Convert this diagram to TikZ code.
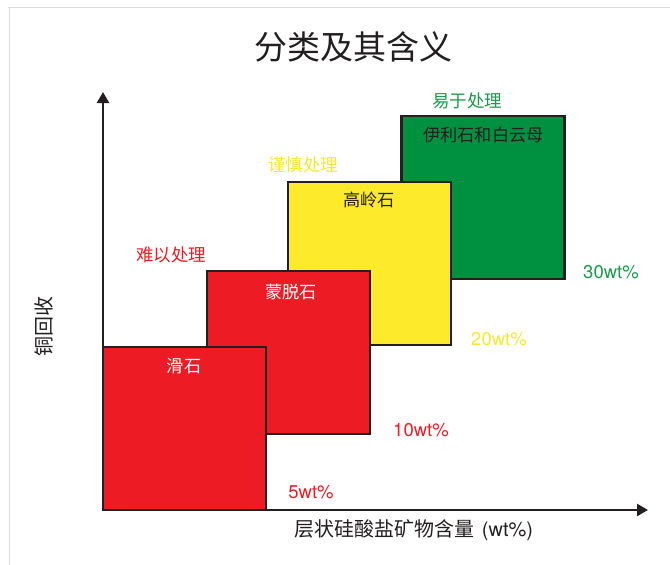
\documentclass[tikz,border=0pt]{standalone}
\usepackage{fontspec}
\setmainfont{Noto Sans CJK SC}
\newfontfamily\latf{TeX Gyre Heros}
\usetikzlibrary{arrows.meta}
\definecolor{ink}{HTML}{231F20}
\definecolor{rd}{HTML}{ED1C24}
\definecolor{yl}{HTML}{FCEA2B}
\definecolor{gn}{HTML}{009140}
\definecolor{gnt}{HTML}{1B9A4B}
\definecolor{ylt}{HTML}{F7E733}
\definecolor{frame}{HTML}{DCDCDC}
\tikzset{
  box/.style={draw=ink, line width=2.5pt, minimum width=163pt, minimum height=163pt, inner sep=0pt},
  boxlbl/.style={inner sep=0pt, font=\fontsize{17.2}{19}\selectfont},
  catlbl/.style={inner sep=0pt, font=\fontsize{17.5}{19}\selectfont},
  wtlbl/.style={inner sep=0pt, font=\latf\fontsize{18.5}{20}\selectfont},
  axis/.style={draw=ink, line width=2.5pt, -{Triangle[length=11pt,width=12pt]}},
}
\begin{document}
\begin{tikzpicture}[x=1pt,y=-1pt]
\useasboundingbox (0,0) rectangle (670,565);
% frame
\draw[frame, line width=1.5pt] (8,7.5) -- (670,7.5);
\draw[frame, line width=1.5pt] (9.5,7) -- (9.5,565);
% title
\node[inner sep=0pt, font=\fontsize{33}{36}\selectfont, text=ink] (title) at (353,47) {分类及其含义};
% axes
\coordinate (o) at (103,510);
\coordinate (ytip) at (103,92);
\coordinate (xtip) at (648,510);
\draw[axis] (o) -- (ytip);
\draw[axis] (o) -- (xtip);
% boxes (back to front)
\node[box, fill=gn] (green) at (483,197.5) {};
\node[box, fill=yl] (yellow) at (369.5,263.5) {};
\node[box, fill=rd] (red2) at (288.5,352.5) {};
\node[box, fill=rd] (red1) at (184.5,428.5) {};
% box labels
\node[boxlbl, text=ink] (lgreen) at (483.5,135) {伊利石和白云母};
\node[boxlbl, text=ink] (lyellow) at (369,200) {高岭石};
\node[boxlbl, text=white] (lred2) at (291,292) {蒙脱石};
\node[boxlbl, text=white] (lred1) at (184,366) {滑石};
% category labels
\node[catlbl, text=gnt] (cgreen) at (467,101) {易于处理};
\node[catlbl, text=ylt] (cyellow) at (303,165) {谨慎处理};
\node[catlbl, text=rd] (cred) at (171,255) {难以处理};
% wt labels
\node[wtlbl, text=gnt] (w30) at (611,272.5) {30wt\%};
\node[wtlbl, text=ylt] (w20) at (499,339) {20wt\%};
\node[wtlbl, text=rd] (w10) at (421,430) {10wt\%};
\node[wtlbl, text=rd] (w5) at (311,492) {5wt\%};
% axis labels
\node[inner sep=0pt, text=ink, font=\fontsize{20}{22}\selectfont] (xlabel) at (414,530) {层状硅酸盐矿物含量\hspace{7pt}{\latf(wt\%)}};
\node[inner sep=0pt, text=ink, font=\fontsize{20}{22}\selectfont, rotate=90] (ylabel) at (44,326) {铜回收};
\end{tikzpicture}
\end{document}
